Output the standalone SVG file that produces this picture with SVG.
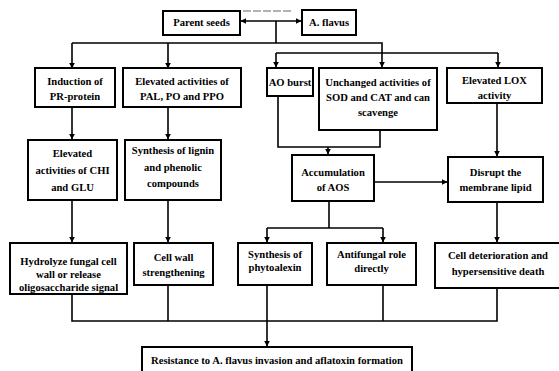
<svg xmlns="http://www.w3.org/2000/svg" width="559" height="371" viewBox="0 0 559 371">
  <style>
    .box { fill: #fff; stroke: #000; stroke-width: 2; }
    .lbl { font-family: "Liberation Serif", "Times New Roman", serif; font-weight: bold; font-size: 10.6px; fill: #000; text-anchor: middle; }
    .wire { fill: none; stroke: #000; stroke-width: 1.6; }
    .arr { marker-end: url(#head); }
  </style>
  <defs>
    <marker id="head" viewBox="0 0 10 10" refX="9" refY="5" markerWidth="6" markerHeight="6" markerUnits="userSpaceOnUse" orient="auto">
      <path d="M0,0 L10,5 L0,10 z" fill="#000"/>
    </marker>
    <marker id="tail" viewBox="0 0 10 10" refX="1" refY="5" markerWidth="6" markerHeight="6" markerUnits="userSpaceOnUse" orient="auto">
      <path d="M10,0 L0,5 L10,10 z" fill="#000"/>
    </marker>
  </defs>
  <rect width="559" height="371" fill="#fff"/>

  <g id="connectors">
    <!-- faint rule above the top pair -->
    <line x1="243" y1="11" x2="293" y2="11" stroke="#666" stroke-width="1" stroke-dasharray="8 2"/>
    <!-- two-way link between seeds and fungus -->
    <line class="wire" x1="241" y1="21" x2="301" y2="21" marker-start="url(#tail)" marker-end="url(#head)"/>
    <line class="wire" x1="276" y1="21" x2="276" y2="43"/>
    <polyline class="wire" points="72,43 382,43 382,53"/>
    <line class="wire" x1="276" y1="53" x2="498" y2="53"/>
    <line class="wire arr" x1="72" y1="43" x2="72" y2="68"/>
    <line class="wire arr" x1="168" y1="43" x2="168" y2="68"/>
    <line class="wire arr" x1="276" y1="53" x2="276" y2="67"/>
    <line class="wire arr" x1="382" y1="53" x2="382" y2="67"/>
    <line class="wire arr" x1="498" y1="53" x2="498" y2="67"/>

    <!-- first row to second row -->
    <line class="wire arr" x1="72" y1="107" x2="72" y2="139"/>
    <line class="wire arr" x1="168" y1="107" x2="168" y2="139"/>
    <polyline class="wire" points="278,96 278,147 380,147 380,130"/>
    <line class="wire arr" x1="328" y1="147" x2="328" y2="154"/>
    <line class="wire arr" x1="497" y1="103" x2="497" y2="156"/>
    <line class="wire arr" x1="374" y1="182" x2="447" y2="182"/>

    <!-- second row to third row -->
    <line class="wire" x1="329" y1="201" x2="329" y2="228"/>
    <line class="wire" x1="267" y1="228" x2="383" y2="228"/>
    <line class="wire arr" x1="267" y1="228" x2="267" y2="242"/>
    <line class="wire arr" x1="383" y1="228" x2="383" y2="242"/>
    <line class="wire arr" x1="72" y1="200" x2="72" y2="242"/>
    <line class="wire arr" x1="168" y1="200" x2="168" y2="242"/>
    <line class="wire arr" x1="497" y1="202" x2="497" y2="242"/>

    <!-- collector into the outcome -->
    <polyline class="wire" points="72,294 72,321 497,321 497,288"/>
    <line class="wire" x1="168" y1="285" x2="168" y2="321"/>
    <line class="wire" x1="383" y1="285" x2="383" y2="321"/>
    <line class="wire arr" x1="267" y1="285" x2="267" y2="346"/>
  </g>

  <g id="parent-seeds">
    <rect class="box" x="163" y="11" width="77" height="24"/>
    <text class="lbl" x="201.5" y="26">Parent seeds</text>
  </g>
  <g id="a-flavus">
    <rect class="box" x="302" y="10" width="54" height="25"/>
    <text class="lbl" x="329" y="26">A. flavus</text>
  </g>

  <g id="pr-protein">
    <rect class="box" x="35" y="68" width="80" height="39"/>
    <text class="lbl" x="75" y="85">Induction of</text>
    <text class="lbl" x="75" y="100">PR-protein</text>
  </g>
  <g id="pal-po-ppo">
    <rect class="box" x="123" y="68" width="118" height="39"/>
    <text class="lbl" x="182" y="85">Elevated activities of</text>
    <text class="lbl" x="182" y="100">PAL, PO and PPO</text>
  </g>
  <g id="ao-burst">
    <rect class="box" x="267" y="68" width="46" height="28"/>
    <text class="lbl" x="290" y="86">AO burst</text>
  </g>
  <g id="sod-cat">
    <rect class="box" x="319" y="68" width="118" height="62"/>
    <text class="lbl" x="378" y="86">Unchanged activities of</text>
    <text class="lbl" x="378" y="101">SOD and CAT and can</text>
    <text class="lbl" x="378" y="116">scavenge</text>
  </g>
  <g id="lox">
    <rect class="box" x="447" y="68" width="95" height="35"/>
    <text class="lbl" x="494.5" y="84">Elevated LOX</text>
    <text class="lbl" x="494.5" y="99">activity</text>
  </g>

  <g id="chi-glu">
    <rect class="box" x="28" y="140" width="89" height="60"/>
    <text class="lbl" x="72.5" y="157">Elevated</text>
    <text class="lbl" x="72.5" y="174">activities of CHI</text>
    <text class="lbl" x="72.5" y="191">and GLU</text>
  </g>
  <g id="lignin">
    <rect class="box" x="125" y="140" width="96" height="60"/>
    <text class="lbl" x="173" y="154">Synthesis of lignin</text>
    <text class="lbl" x="173" y="171">and phenolic</text>
    <text class="lbl" x="173" y="187">compounds</text>
  </g>
  <g id="aos">
    <rect class="box" x="292" y="155" width="82" height="46"/>
    <text class="lbl" x="333" y="176">Accumulation</text>
    <text class="lbl" x="333" y="191">of AOS</text>
  </g>
  <g id="membrane">
    <rect class="box" x="448" y="157" width="95" height="45"/>
    <text class="lbl" x="495.5" y="176">Disrupt the</text>
    <text class="lbl" x="495.5" y="191">membrane lipid</text>
  </g>

  <g id="hydrolyze">
    <rect class="box" x="10" y="243" width="117" height="51"/>
    <text class="lbl" x="68.5" y="265">Hydrolyze fungal cell</text>
    <text class="lbl" x="68.5" y="278">wall or release</text>
    <text class="lbl" x="68.5" y="291">oligosaccharide signal</text>
  </g>
  <g id="cell-wall">
    <rect class="box" x="134" y="243" width="79" height="42"/>
    <text class="lbl" x="173.5" y="261">Cell wall</text>
    <text class="lbl" x="173.5" y="276">strengthening</text>
  </g>
  <g id="phytoalexin">
    <rect class="box" x="238" y="243" width="74" height="42"/>
    <text class="lbl" x="275" y="258">Synthesis of</text>
    <text class="lbl" x="275" y="271">phytoalexin</text>
  </g>
  <g id="antifungal">
    <rect class="box" x="327" y="243" width="89" height="42"/>
    <text class="lbl" x="371.5" y="258">Antifungal role</text>
    <text class="lbl" x="371.5" y="272">directly</text>
  </g>
  <g id="cell-death">
    <rect class="box" x="435" y="243" width="127" height="45"/>
    <text class="lbl" x="498" y="259">Cell deterioration and</text>
    <text class="lbl" x="498" y="275">hypersensitive death</text>
  </g>

  <g id="resistance">
    <rect class="box" x="142" y="347" width="270" height="28"/>
    <text class="lbl" x="277" y="364">Resistance to A. flavus invasion and aflatoxin formation</text>
  </g>
</svg>
